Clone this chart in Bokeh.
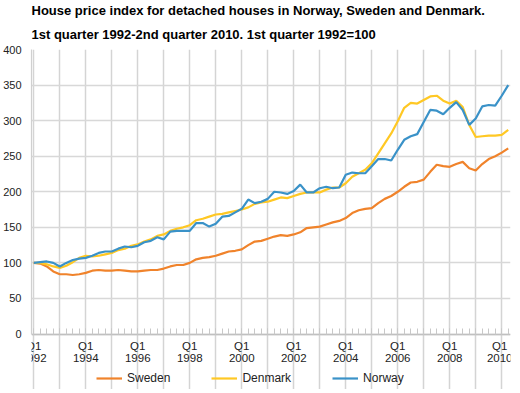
from bokeh.plotting import figure
from bokeh.models import FixedTicker, Legend, LegendItem, Title, Range1d
from bokeh.embed import file_html
from bokeh.resources import INLINE

# ---- data ----
years = list(range(1992, 2011))
quarters = [f"{y}Q{q}" for y in years for q in (1, 2, 3, 4)][:74]

sweden = [100, 99, 95, 88, 84, 84, 83, 84, 86, 89, 90, 89, 89, 90, 89, 88,
          88, 89, 90, 90, 92, 95, 97, 97, 100, 105, 107, 108, 110, 113, 116, 117,
          119, 125, 130, 131, 134, 137, 139, 138, 140, 143, 149, 150, 151, 154, 157, 159,
          163, 170, 174, 176, 177, 184, 190, 194, 200, 207, 213, 214, 217, 228, 238, 236,
          235, 239, 242, 233, 230, 239, 246, 250, 255, 261]
denmark = [100, 100, 98, 95, 93, 96, 101, 107, 110, 109, 110, 112, 114, 118, 120, 124,
           126, 130, 133, 138, 140, 145, 148, 150, 153, 160, 162, 165, 168, 169, 171, 173,
           175, 178, 183, 185, 186, 189, 192, 191, 194, 197, 199, 199, 199, 203, 206, 206,
           212, 221, 226, 231, 240, 254, 268, 282, 299, 318, 325, 324, 329, 334, 335, 328,
           324, 328, 319, 294, 277, 278, 279, 279, 280, 287]
norway = [100, 101, 102, 100, 95, 100, 104, 106, 107, 110, 114, 116, 116, 120, 123, 122,
          124, 129, 131, 136, 133, 144, 145, 145, 145, 156, 156, 151, 155, 165, 166, 171,
          176, 189, 184, 186, 190, 200, 199, 197, 201, 210, 199, 199, 205, 207, 205, 206,
          224, 227, 226, 226, 236, 246, 246, 244, 259, 273, 278, 281, 298, 315, 314, 309,
          318, 326, 315, 294, 303, 320, 322, 321, 335, 350]

series_names = ["Sweden", "Denmark", "Norway"]
series_colors = ["#f0832b", "#ffc824", "#3a92c8"]
y_ticks = [0, 50, 100, 150, 200, 250, 300, 350, 400]
labeled_years = ["1992", "1994", "1996", "1998", "2000", "2002", "2004", "2006", "2008", "2010"]

title1 = "House price index for detached houses in Norway, Sweden and Denmark."
title2 = "1st quarter 1992-2nd quarter 2010. 1st quarter 1992=100"

x = list(range(len(quarters)))
year_ticks = [i for i, q in enumerate(quarters) if q.endswith("Q1")]
tick_overrides = {}
for i in year_ticks:
    yr = quarters[i][:4]
    tick_overrides[i] = ("Q1\n" + yr) if yr in labeled_years else ""

FONT = "Liberation Sans"
TXT = "#222222"

# frame extends below 0 so that the x axis (fixed at y=0) and the legend sit inside it
p = figure(frame_width=479, frame_height=340, output_backend="svg", toolbar_location=None,
           x_range=Range1d(-0.35, 73.35), y_range=Range1d(-78, 400),
           min_border_left=23, min_border_right=2, min_border_top=0, min_border_bottom=0)
p.outline_line_color = None
p.background_fill_color = "white"
p.border_fill_color = "white"

p.add_layout(Title(text=title2, text_font=FONT, text_font_size="13px", text_font_style="bold",
                   text_color="black", align="left", standoff=15), "above")
p.add_layout(Title(text=title1, text_font=FONT, text_font_size="13px", text_font_style="bold",
                   text_color="black", align="left", standoff=0), "above")

renderers = []
for name, vals, col in zip(series_names, [sweden, denmark, norway], series_colors):
    r = p.line(x, vals, line_color=col, line_width=2.2)
    renderers.append(r)

# x axis, drawn at y = 0
xa = p.xaxis[0]
xa.fixed_location = 0
xa.ticker = FixedTicker(ticks=year_ticks, minor_ticks=x)
xa.major_label_overrides = tick_overrides
xa.major_label_text_font = FONT
xa.major_label_text_font_size = "11.5px"
xa.major_label_text_line_height = 1.0
xa.major_label_text_color = TXT
xa.major_label_standoff = 6
xa.major_tick_in = 6
xa.major_tick_out = 0
xa.minor_tick_in = 6
xa.minor_tick_out = 0
xa.major_tick_line_color = "#c8c8c8"
xa.minor_tick_line_color = "#c8c8c8"
xa.axis_line_color = "#c0c0c0"
xa.axis_line_width = 1.5

ya = p.yaxis[0]
ya.ticker = FixedTicker(ticks=y_ticks)
ya.bounds = (0, 400)
ya.major_label_text_font = FONT
ya.major_label_text_font_size = "11px"
ya.major_label_text_color = TXT
ya.major_label_standoff = 4
ya.major_tick_line_color = None
ya.minor_tick_line_color = None
ya.axis_line_color = "#d0d0d0"
ya.axis_line_width = 1.2

p.xgrid.ticker = FixedTicker(ticks=year_ticks)
p.xgrid.bounds = (0, 400)
p.xgrid.grid_line_color = "#d4d4d4"
p.xgrid.grid_line_width = 1.5
p.ygrid.ticker = FixedTicker(ticks=y_ticks)
p.ygrid.grid_line_color = "#d8d8d8"
p.ygrid.grid_line_width = 1.5

legend = Legend(items=[LegendItem(label=n, renderers=[r]) for n, r in zip(series_names, renderers)],
                orientation="horizontal", location=(65, 4),
                glyph_width=26, glyph_height=12, label_height=12, label_standoff=5, spacing=41,
                padding=0, margin=0, border_line_color=None, background_fill_alpha=0,
                label_text_font=FONT, label_text_font_size="12px", label_text_color=TXT)
p.add_layout(legend)

open("out.html", "w").write(file_html(p, INLINE))
